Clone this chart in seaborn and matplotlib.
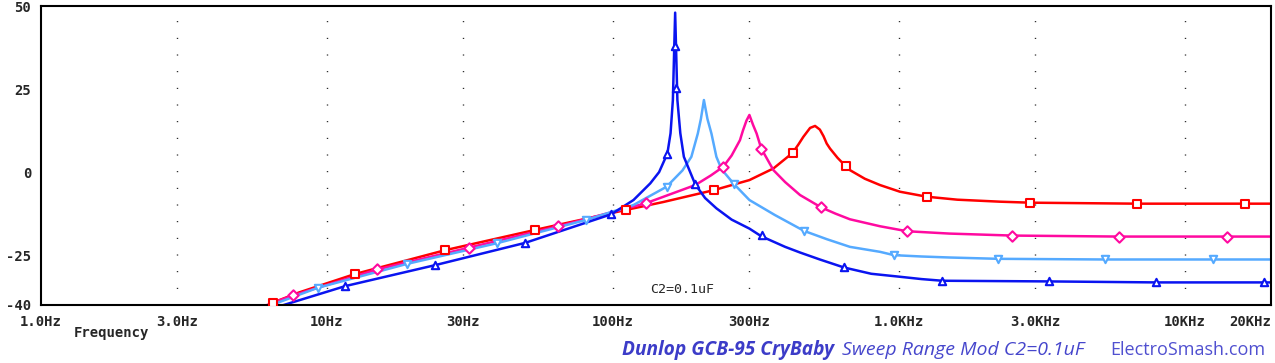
import numpy as np
import pandas as pd
import matplotlib
matplotlib.use("Agg")
import matplotlib.pyplot as plt
import seaborn as sns

# curve data (frequency in Hz, gain in dB)
red_f = [6, 6.46, 8, 12.5, 25.9, 53.4, 110.8, 150, 226, 278, 300, 364, 425, 445, 463, 489, 509,
         529, 545, 559, 574, 610, 651, 674, 760, 859, 1008, 1250, 1600, 2255, 2870, 6790, 20000]
red_db = [-40.8, -39.3, -36.2, -30.7, -23.5, -17.4, -11.4, -9.0, -5.4, -3.2, -2.4, 1.1, 5.8, 8.3, 10.6, 13.3, 13.9,
          12.8, 10.8, 8.6, 7.1, 4.3, 1.8, 0.6, -2.0, -3.9, -5.9, -7.4, -8.3, -8.9, -9.2, -9.5, -9.5]

mag_f = [6, 7.6, 15, 31.5, 64.4, 130, 194, 220, 243, 260, 278, 285, 293, 300, 309, 318, 330, 364, 400,
         451, 534, 600, 674, 859, 1008, 1070, 1500, 2490, 5890, 20000]
mag_db = [-40.4, -37.1, -29.3, -22.7, -16.3, -9.4, -3.9, -1.0, 1.6, 5.0, 9.6, 12.6, 15.5, 17.2, 14.2, 11.6, 7.1, 0.6, -3.0,
          -6.9, -10.6, -12.5, -14.2, -16.3, -17.4, -17.8, -18.5, -19.1, -19.4, -19.4]

lb_f = [6, 9.3, 19.1, 39.3, 80.5, 118, 154, 175, 188, 198, 203, 208, 214, 221, 230, 240, 265, 300, 368,
        466, 560, 674, 859, 961, 1200, 1500, 2220, 5250, 20000]
lb_db = [-40.9, -34.8, -27.6, -21.4, -14.4, -9.9, -4.4, 0.5, 4.6, 11.6, 16.0, 21.7, 16.0, 11.6, 4.6, 0.8, -3.6, -8.4, -12.9,
         -17.7, -20.2, -22.5, -24.0, -25.0, -25.4, -25.7, -26.1, -26.3, -26.3]

blue_f = [6, 6.7, 11.6, 23.9, 49.3, 98.6, 118, 135, 145, 155, 159, 162, 165, 168, 172, 177, 194, 210,
          230, 260, 300, 330, 400, 451, 529, 642, 800, 1008, 1200, 1417, 3340, 7920, 20000]
blue_db = [-41.9, -40.6, -34.3, -28.0, -21.3, -12.7, -8.4, -3.4, 0.0, 5.6, 11.7, 21.7, 48.0, 21.7, 11.7, 4.6, -3.7, -7.8,
           -10.9, -14.3, -17.0, -19.3, -22.5, -24.2, -26.3, -28.7, -30.6, -31.5, -32.2, -32.7, -32.9, -33.2, -33.2]

# marker positions
red_mf = [6.46, 12.5, 25.9, 53.4, 110.8, 226, 425, 651, 1250, 2870, 6790, 16200]
red_mdb = [-39.3, -30.7, -23.5, -17.4, -11.4, -5.4, 5.8, 1.8, -7.4, -9.2, -9.5, -9.5]
mag_mf = [7.6, 15, 31.5, 64.4, 130, 243, 330, 534, 1070, 2490, 5890, 14060]
mag_mdb = [-37.1, -29.3, -22.7, -16.3, -9.4, 1.6, 7.1, -10.6, -17.8, -19.1, -19.4, -19.4]
lb_mf = [9.3, 19.1, 39.3, 80.5, 154, 265, 466, 961, 2220, 5250, 12530]
lb_mdb = [-34.8, -27.6, -21.4, -14.4, -4.4, -3.6, -17.7, -25.0, -26.1, -26.3, -26.3]
blue_mf = [11.6, 23.9, 49.3, 98.6, 155, 165, 166, 194, 332, 642, 1417, 3340, 7920, 18900]
blue_mdb = [-34.3, -28.0, -21.3, -12.7, 5.6, 38.0, 25.4, -3.7, -19.0, -28.7, -32.7, -32.9, -33.2, -33.2]

xticks = [1, 3, 10, 30, 100, 300, 1000, 3000, 10000, 20000]
xlabels = ["1.0Hz", "3.0Hz", "10Hz", "30Hz", "100Hz", "300Hz", "1.0KHz", "3.0KHz", "10KHz", "20KHz"]
yticks = [-40, -25, 0, 25, 50]

series = [
    ("red", red_f, red_db, red_mf, red_mdb, "#ff0000", "s"),
    ("magenta", mag_f, mag_db, mag_mf, mag_mdb, "#ff0aa0", "D"),
    ("lightblue", lb_f, lb_db, lb_mf, lb_mdb, "#55aaff", "v"),
    ("blue", blue_f, blue_db, blue_mf, blue_mdb, "#0a14f0", "^"),
]

sns.set_style("white")
fig = plt.figure(figsize=(12.75, 3.63), dpi=100)
ax = fig.add_axes([41 / 1275, 58 / 363, 1230 / 1275, 299 / 363])

# dotted vertical grid
for t in xticks[1:-1]:
    ax.axvline(t, color="black", lw=1.0, ls=(0, (0.7, 11.3)), zorder=0)

for name, f, db, mf, mdb, col, mk in series:
    df = pd.DataFrame({"f": f, "db": db})
    sns.lineplot(data=df, x="f", y="db", ax=ax, color=col, lw=1.8, sort=False, estimator=None)
    mdf = pd.DataFrame({"f": mf, "db": mdb})
    sns.scatterplot(data=mdf, x="f", y="db", ax=ax, marker=mk, s=28, facecolor="white",
                    edgecolor=col, linewidth=1.5, zorder=5)

ax.set_xscale("log")
ax.set_xlim(1, 20000)
ax.set_ylim(-40, 50)
ax.minorticks_off()
ax.set_xticks(xticks)
ax.set_xticklabels(xlabels, family="DejaVu Sans Mono", weight="bold", fontsize=10)
ax.get_xticklabels()[-1].set_horizontalalignment("right")
ax.set_yticks(yticks)
ax.set_yticklabels([str(v) for v in yticks], family="DejaVu Sans Mono", weight="bold", fontsize=10)
ax.tick_params(axis="both", direction="out", length=4, width=1.2, color="black", pad=3)
ax.set_xlabel("")
ax.set_ylabel("")
for s in ax.spines.values():
    s.set_color("black")
    s.set_linewidth(1.5)

ax.text(135, -35.3, "C2=0.1uF", family="DejaVu Sans Mono", fontsize=9.5, va="center", ha="left")

fig.text(74 / 1275, 1 - 333 / 363, "Frequency", family="DejaVu Sans Mono", weight="bold",
         fontsize=10, va="center", ha="left")
fig.text(622 / 1275, 1 - 350 / 363, "Dunlop GCB-95 CryBaby", family="Open Sans", weight="bold",
         style="italic", fontsize=13.8, color="#3c3cc8", va="center", ha="left")
fig.text(842 / 1275, 1 - 350 / 363, "Sweep Range Mod C2=0.1uF", family="Open Sans",
         style="italic", fontsize=14, color="#4646cc", va="center", ha="left")
fig.text(1265 / 1275, 1 - 350 / 363, "ElectroSmash.com", family="Open Sans",
         fontsize=13, color="#5050d0", va="center", ha="right")

fig.savefig("out.png", dpi=100)
